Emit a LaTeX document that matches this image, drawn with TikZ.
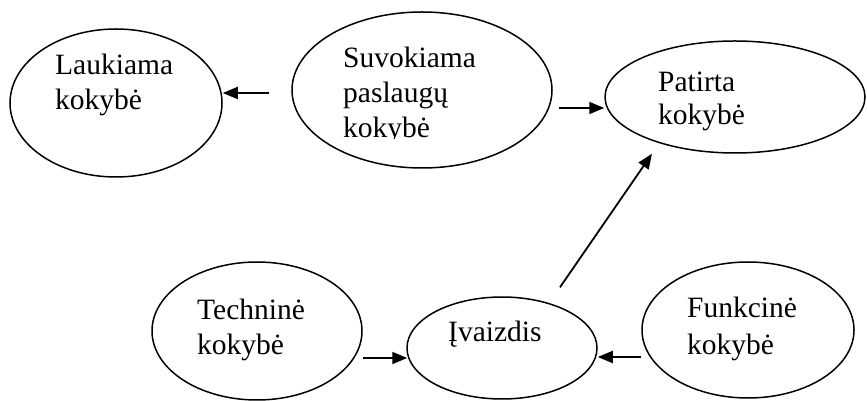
\documentclass[tikz,border=0pt]{standalone}
\usepackage{fontspec}
\setmainfont{Liberation Serif}
\usetikzlibrary{arrows.meta,shapes.geometric}
\begin{document}
\begin{tikzpicture}[x=1pt,y=1pt,
  oval/.style={draw,ellipse,line width=1.5pt,inner sep=0pt},
  lbl/.style={anchor=base west,inner sep=0pt,font=\fontsize{29.5}{35}\selectfont},
  arr/.style={line width=1.8pt,-{Triangle[length=15pt,width=12pt]}}]
\useasboundingbox (0,0) rectangle (867,401);
\node[oval,minimum width=212pt,minimum height=148pt] (lauk) at (116,298) {};
\node[oval,minimum width=260pt,minimum height=156pt] (suv) at (422,311) {};
\node[oval,minimum width=260pt,minimum height=112pt] (pat) at (735,304) {};
\node[oval,minimum width=210pt,minimum height=138pt] (tech) at (257,70) {};
\node[oval,minimum width=190pt,minimum height=102pt] (iv) at (502,53) {};
\node[oval,minimum width=212pt,minimum height=136pt] (fun) at (748,71) {};
\node[lbl] (t1a) at (55,326) {Laukiama};
\node[lbl] (t1b) at (55,291) {kokybė};
\node[lbl] (t2a) at (343,333) {Suvokiama};
\node[lbl] (t2b) at (343,298) {paslaugų};
\begin{scope}
\clip (330,262) rectangle (560,300);
\node[lbl] (t2c) at (343,263.5) {kokybė};
\end{scope}
\node[lbl] (t3a) at (658,309) {Patirta};
\node[lbl] (t3b) at (658,276) {kokybė};
\node[lbl] (t4a) at (197,81) {Techninė};
\node[lbl] (t4b) at (197,46) {kokybė};
\node[lbl] (t5a) at (448,59) {Įvaizdis};
\node[lbl] (t6a) at (687,83) {Funkcinė};
\node[lbl] (t6b) at (687,46) {kokybė};
\draw[arr] ([shift={(-22pt,-3pt)}]suv.west) -- ([yshift=10pt]lauk.east);
\draw[arr] ([shift={(6pt,-18pt)}]suv.east) -- ([yshift=-11pt]pat.west);
\draw[arr] ([shift={(58pt,9pt)}]iv.north) -- ([xshift=-83pt]pat.south);
\draw[arr] ([yshift=-27pt]tech.east) -- ([shift={(1pt,-10pt)}]iv.west);
\draw[arr] ([yshift=-27pt]fun.west) -- ([yshift=-9pt]iv.east);
\end{tikzpicture}
\end{document}
